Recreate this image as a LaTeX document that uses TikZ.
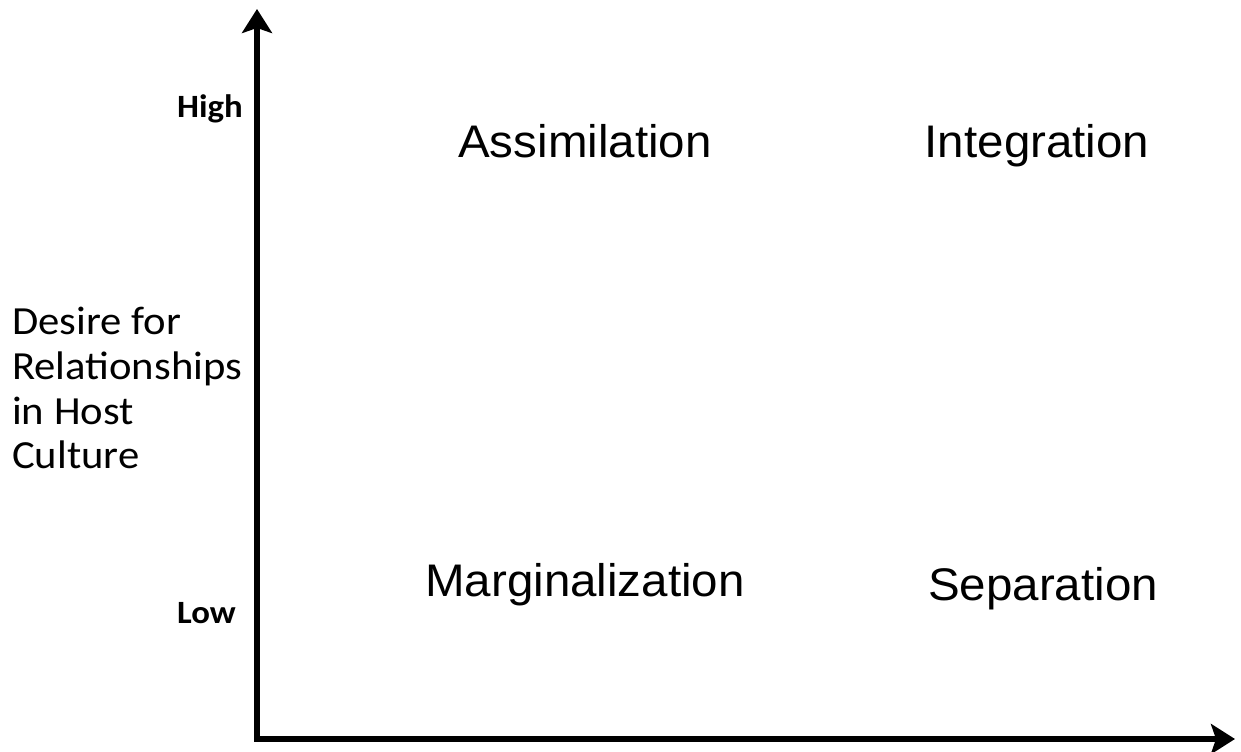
\documentclass[tikz,border=0pt]{standalone}
\usepackage{fontspec}
\setmainfont[FakeStretch=1.04]{Liberation Sans}
\newfontfamily\calfont[FakeStretch=1.07]{Carlito}
\usetikzlibrary{arrows.meta}

\tikzset{
  axisline/.style={line width=3.4pt, line join=miter,
    {Stealth[length=0.48cm, width=0.6cm, inset=0.1cm]}-{Stealth[length=0.48cm, width=0.6cm, inset=0.1cm]}},
  quad/.style={font=\fontsize{26}{30}\selectfont, anchor=base},
  tick/.style={font=\calfont\bfseries\fontsize{18.5}{22}\selectfont, anchor=base east},
}

\begin{document}
\begin{tikzpicture}[x=0.02cm, y=0.02cm]
	\useasboundingbox (0,0) rectangle (1241,751);
	\coordinate (origin) at (257,12);
	\coordinate (ytop) at (257,742);
	\coordinate (xend) at (1235,12);
	\draw[axisline] (ytop) -- (origin) -- (xend);
	% axis marks
	\node[tick] (high) at (249,633) {High};
	\node[tick] (low) at (242,128) {Low};
	\node[font=\calfont\fontsize{22.7}{25.5}\selectfont, anchor=base west, align=left] (ylabel) at (6,282)
		{Desire for\\Relationships\\in Host\\Culture};
	% quadrants
	\node[quad] (assim) at (585,593) {Assimilation};
	\node[quad] (integ) at (1037,593) {Integration};
	\node[quad] (margi) at (585,154) {Marginalization};
	\node[quad] (separ) at (1043,151) {Separation};
\end{tikzpicture}
\end{document}
